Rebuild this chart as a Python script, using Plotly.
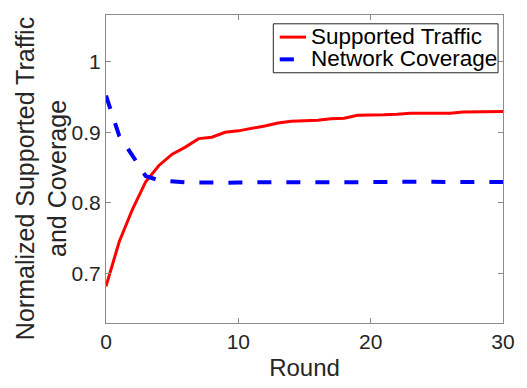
import plotly.graph_objects as go

# Round index and the two normalized metrics per round
rounds = list(range(31))
supported_traffic = [
    0.682, 0.745, 0.791, 0.830, 0.853, 0.869, 0.879, 0.891, 0.893, 0.900,
    0.902, 0.905, 0.909, 0.913, 0.9155, 0.9164, 0.917, 0.919, 0.920, 0.924,
    0.924, 0.9247, 0.9256, 0.927, 0.927, 0.927, 0.927, 0.9288, 0.929, 0.9295,
    0.9295,
]
network_coverage = [
    0.952, 0.895, 0.867, 0.838, 0.832, 0.830, 0.829, 0.829, 0.8285, 0.8285,
    0.829, 0.829, 0.829, 0.829, 0.8285, 0.8285, 0.829, 0.8295, 0.829, 0.829,
    0.829, 0.8295, 0.830, 0.830, 0.8295, 0.8295, 0.830, 0.8305, 0.830, 0.8295,
    0.8295,
]
series_names = ["Supported Traffic", "Network Coverage"]
series_colors = ["#ff0000", "#0000ff"]
x_ticks = [0, 10, 20, 30]
y_ticks = [0.7, 0.8, 0.9, 1.0]
y_tick_text = ["0.7", "0.8", "0.9", "1"]

FONT = "Liberation Sans, Arial, Helvetica, sans-serif"
TEXT = "#262626"
AXIS = "#8c8c8c"

W, H = 527, 388
M_L, M_R, M_T, M_B = 106, 19.5, 14.7, 58.7
PLOT_W = W - M_L - M_R
PLOT_H = H - M_T - M_B


def px_x(px):
    """Pixel column -> paper x."""
    return (px - M_L) / PLOT_W


def px_y(py):
    """Pixel row -> paper y."""
    return 1 - (py - M_T) / PLOT_H


fig = go.Figure()
fig.add_trace(go.Scatter(
    x=rounds, y=supported_traffic, mode="lines", name=series_names[0],
    line=dict(color=series_colors[0], width=3), showlegend=False,
))
fig.add_trace(go.Scatter(
    x=rounds, y=network_coverage, mode="lines", name=series_names[1],
    line=dict(color=series_colors[1], width=4, dash="14px,15px"), showlegend=False,
))

axis_common = dict(
    showgrid=False, zeroline=False, showline=True, linecolor=AXIS, linewidth=1,
    mirror="ticks", ticks="inside", ticklen=5, tickcolor=AXIS,
    tickfont=dict(family=FONT, size=21, color=TEXT),
)

fig.update_xaxes(
    range=[0, 30], tickvals=x_ticks,
    title=dict(text="Round", font=dict(family=FONT, size=24, color=TEXT), standoff=6),
    **axis_common,
)
fig.update_yaxes(
    range=[0.63, 1.066], tickvals=y_ticks, ticktext=y_tick_text,
    **axis_common,
)

# Two-line y-axis label
fig.add_annotation(
    text="Normalized Supported Traffic<br>and Coverage",
    xref="paper", yref="paper", x=-0.164, y=0.47,
    xanchor="center", yanchor="middle", textangle=-90, showarrow=False,
    font=dict(family=FONT, size=25, color=TEXT),
)

# Compact boxed legend in the upper right corner
fig.add_shape(
    type="rect", xref="paper", yref="paper",
    x0=px_x(275.2), x1=px_x(502.5), y0=px_y(73.7), y1=px_y(23.7),
    line=dict(color="#262626", width=1), fillcolor="white", layer="above",
)
legend_rows = [37.3, 60.0]
sample_ends = [308.3, 296.0]
sample_widths = [3, 4]
for name, color, row, end, lw in zip(series_names, series_colors, legend_rows,
                                     sample_ends, sample_widths):
    fig.add_shape(
        type="line", xref="paper", yref="paper",
        x0=px_x(281.7), x1=px_x(end), y0=px_y(row), y1=px_y(row),
        line=dict(color=color, width=lw), layer="above",
    )
    fig.add_annotation(
        text=name, xref="paper", yref="paper",
        x=px_x(311.0), y=px_y(row - 0.5), xanchor="left", yanchor="middle",
        showarrow=False, font=dict(family=FONT, size=22.5, color="black"),
    )

fig.update_layout(
    width=W, height=H,
    margin=dict(l=M_L, r=M_R, t=M_T, b=M_B),
    paper_bgcolor="white", plot_bgcolor="white",
    font=dict(family=FONT, color="black"),
    showlegend=False,
)

fig.write_html("out.html")
